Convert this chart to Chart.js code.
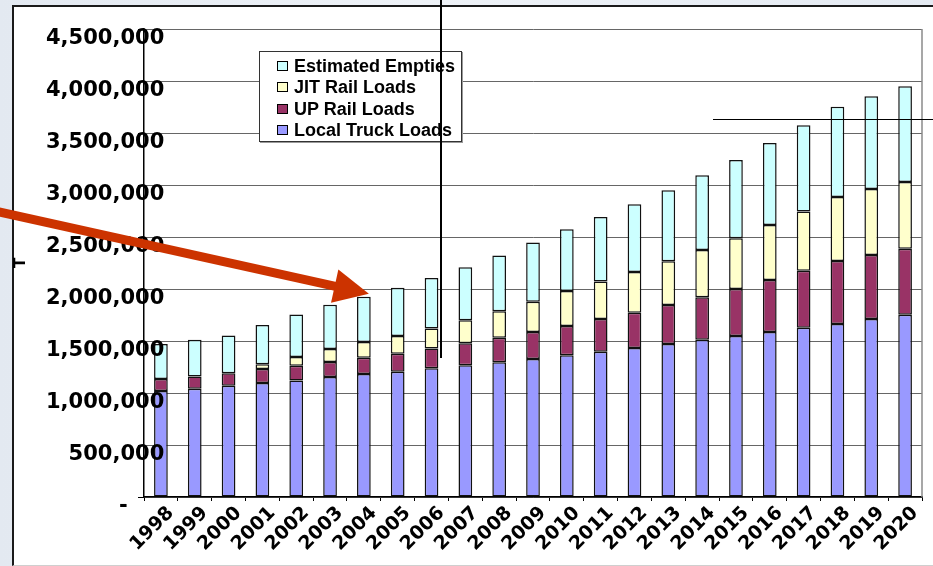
<!DOCTYPE html>
<html>
<head>
<meta charset="utf-8">
<script src="https://cdn.jsdelivr.net/npm/chart.js@4.4.1/dist/chart.umd.min.js"></script>
<style>
  html, body { margin: 0; padding: 0; }
  body {
    width: 933px; height: 566px; overflow: hidden; position: relative;
    background: linear-gradient(90deg, #e3e9f1 0%, #eef2f7 45%, #e4eaf2 100%);
  }
  #panel {
    position: absolute; left: 12px; top: 5px; width: 930px; height: 558px;
    background: #fff; border-left: 2px solid #1a1a1a; border-top: 2px solid #1a1a1a;
    border-bottom: 1px solid #cfcfcf;
  }
  #chart { position: absolute; left: 0; top: 0; }
  #legend {
    position: absolute; left: 259px; top: 51px; width: 201px; height: 85px;
    background: #fff; border: 1px solid #333; box-shadow: 1px 1px 0 #999;
    padding-top: 4px; box-sizing: content-box;
  }
  #legend .item {
    height: 21.4px; line-height: 21.4px; white-space: nowrap;
    font: bold 18px "Liberation Sans", Arial, sans-serif; color: #000;
  }
  #legend .sw {
    display: inline-block; width: 9px; height: 8px; border: 1px solid #000;
    margin-left: 17px; margin-right: 6px; vertical-align: 1px;
  }
  .line { position: absolute; background: #000; }
</style>
</head>
<body>
<div id="panel"></div>
<canvas id="chart" width="933" height="566"></canvas>
<div id="legend"></div>
<div class="line" style="left:440px; top:0; width:1.5px; height:358px;"></div>
<div class="line" style="left:713px; top:118.5px; width:220px; height:1.5px;"></div>
<script>
const years = ["1998", "1999", "2000", "2001", "2002", "2003", "2004", "2005", "2006", "2007", "2008",
  "2009", "2010", "2011", "2012", "2013", "2014", "2015", "2016", "2017", "2018", "2019", "2020"];

const localTruck = [1020000, 1040000, 1070000, 1096000, 1120000, 1154000, 1183000, 1205000, 1237000,
  1266000, 1295000, 1327000, 1362000, 1397000, 1433000, 1471000, 1513000, 1548000, 1587000, 1628000,
  1663000, 1712000, 1753000];
const upRail = [115000, 118000, 121000, 135000, 141000, 144000, 157000, 173000, 192000, 212000, 237000,
  260000, 282000, 315000, 339000, 375000, 407000, 452000, 500000, 548000, 606000, 615000, 635000];
const jitRail = [0, 0, 0, 45000, 86000, 125000, 150000, 170000, 190000, 221000, 253000, 291000, 337000,
  359000, 391000, 420000, 455000, 487000, 528000, 568000, 616000, 635000, 641000];
const empties = [336000, 353000, 362000, 378000, 407000, 426000, 436000, 465000, 487000, 509000, 536000,
  568000, 593000, 621000, 651000, 683000, 718000, 753000, 789000, 830000, 868000, 891000, 920000];

const yTicks = [0, 500000, 1000000, 1500000, 2000000, 2500000, 3000000, 3500000, 4000000, 4500000];

const tickFont = { family: "'DejaVu Sans', sans-serif", weight: "bold" };

// plot border on the right + the red arrow pointing at 2004
const decorations = {
  id: "decorations",
  afterDraw(chart) {
    const { ctx, chartArea: a, scales: { x, y } } = chart;
    ctx.save();
    ctx.strokeStyle = "#8a8a8a";
    ctx.lineWidth = 1.5;
    ctx.beginPath();
    ctx.moveTo(a.right, a.top);
    ctx.lineTo(a.right, a.bottom);
    ctx.stroke();

    const i = years.indexOf("2004");
    const total = localTruck[i] + upRail[i] + jitRail[i] + empties[i];
    const tipX = x.getPixelForValue(i) + 5;
    const tipY = y.getPixelForValue(total) - 3;
    const sx = -10, sy = 210;
    const ang = Math.atan2(tipY - sy, tipX - sx);
    const dx = Math.cos(ang), dy = Math.sin(ang);
    const bx = tipX - 35 * dx, by = tipY - 35 * dy;
    ctx.strokeStyle = "#cc3300";
    ctx.fillStyle = "#cc3300";
    ctx.lineWidth = 9;
    ctx.beginPath();
    ctx.moveTo(sx, sy);
    ctx.lineTo(bx + 2 * dx, by + 2 * dy);
    ctx.stroke();
    ctx.beginPath();
    ctx.moveTo(tipX, tipY);
    ctx.lineTo(bx - 17 * dy, by + 17 * dx);
    ctx.lineTo(bx + 17 * dy, by - 17 * dx);
    ctx.closePath();
    ctx.fill();
    ctx.restore();
  }
};

const chart = new Chart(document.getElementById("chart"), {
  type: "bar",
  data: {
    labels: years,
    datasets: [
      { label: "Local Truck Loads", data: localTruck, backgroundColor: "#9999ff" },
      { label: "UP Rail Loads", data: upRail, backgroundColor: "#993366" },
      { label: "JIT Rail Loads", data: jitRail, backgroundColor: "#ffffcc" },
      { label: "Estimated Empties", data: empties, backgroundColor: "#ccffff" }
    ]
  },
  options: {
    responsive: false,
    animation: false,
    layout: { padding: { top: 29, right: 11, bottom: 0, left: 0 } },
    datasets: {
      bar: {
        borderColor: "#111",
        borderWidth: 1.5,
        borderSkipped: false,
        barPercentage: 0.405,
        categoryPercentage: 1
      }
    },
    plugins: {
      legend: { display: false },
      tooltip: { enabled: false }
    },
    scales: {
      x: {
        stacked: true,
        afterFit: s => { s.height = 69; },
        grid: { display: true, drawOnChartArea: false, tickLength: 4, color: "#000", lineWidth: 1 },
        border: { display: true, color: "#000", width: 1.5 },
        ticks: {
          autoSkip: false, maxRotation: 45, minRotation: 45,
          labelOffset: 10, padding: 1, color: "#000",
          font: { ...tickFont, size: 19 }
        }
      },
      y: {
        stacked: true,
        min: 0,
        max: 4500000,
        afterFit: s => { s.width = 144; },
        afterBuildTicks: s => { s.ticks = yTicks.map(v => ({ value: v })); },
        title: {
          display: true, text: "T", color: "#000", padding: { top: 12, bottom: 0 },
          font: { ...tickFont, size: 15 }
        },
        grid: { color: "#666", lineWidth: 1, tickLength: 6, tickColor: "#000" },
        border: { display: true, color: "#000", width: 1.5 },
        ticks: {
          // labels run past the axis line, as in the original, so draw them mirrored (unclipped)
          mirror: true, crossAlign: "far", padding: -98,
          z: 1, labelOffset: 10, color: "#000",
          font: { ...tickFont, size: 21 },
          callback: v => v === 0 ? "-     " : v.toLocaleString("en-US")
        }
      }
    }
  },
  plugins: [decorations]
});

// legend box, built from the datasets (top item = top of the stack)
const legendEl = document.getElementById("legend");
chart.data.datasets.slice().reverse().forEach(ds => {
  const row = document.createElement("div");
  row.className = "item";
  const sw = document.createElement("span");
  sw.className = "sw";
  sw.style.background = ds.backgroundColor;
  row.appendChild(sw);
  row.appendChild(document.createTextNode(ds.label));
  legendEl.appendChild(row);
});
</script>
</body>
</html>
